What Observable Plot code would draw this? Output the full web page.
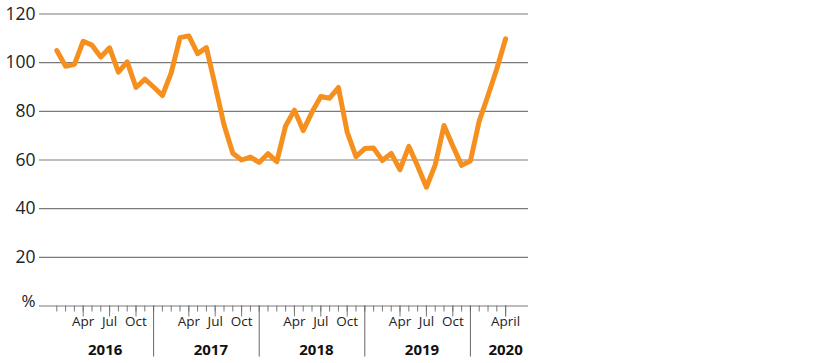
<!DOCTYPE html>
<html>
<head>
<meta charset="utf-8">
<script src="https://cdn.jsdelivr.net/npm/d3@7"></script>
<script src="https://cdn.jsdelivr.net/npm/@observablehq/plot@0.6"></script>
<style>
  html, body { margin: 0; padding: 0; background: #fff; }
  #chart svg { display: block; }
</style>
</head>
<body>
<div id="chart"></div>
<script>
// Monthly values, Jan 2016 .. Apr 2020 (percent)
const values = [
  105, 98.5, 99.3, 108.8, 107.2, 102.3, 106.1, 96.1, 100.3, 89.8, 93.2, 90,
  86.5, 95.8, 110.3, 111, 103.7, 106.2, 90.5, 74.5, 62.8, 60, 61.2, 59,
  62.6, 59.3, 74, 80.5, 72.1, 79.7, 86.1, 85.4, 89.8, 71.4, 61.4, 64.7,
  64.9, 59.8, 62.7, 56, 65.6, 57.5, 48.8, 58, 74.2, 65.8, 57.8, 59.6,
  76, 86.5, 97.5, 109.8
];
const years = [2016, 2017, 2018, 2019, 2020];
const quarterLabels = ["Apr", "Jul", "Oct"];   // months 4, 7, 10
const lastMonthLabel = "April";
const yTicks = [0, 20, 40, 60, 80, 100, 120];
const yZeroLabel = "%";

const data = values.map((v, i) => ({i, v}));
const allMonths = d3.range(values.length);
const boundaries = allMonths.filter(i => i % 12 === 11);
const quarterTicks = allMonths.filter(i => [3, 6, 9].includes(i % 12));
const lastIndex = values.length - 1;
const monthLabelData = quarterTicks
  .filter(i => i < lastIndex - 2)
  .map(i => ({i, label: quarterLabels[[3, 6, 9].indexOf(i % 12)]}))
  .concat([{i: lastIndex, label: lastMonthLabel}]);
const yearLabelData = years.map((y, k) => ({
  i: y === years[years.length - 1] ? lastIndex : k * 12 + 5.5,
  label: String(y)
}));

const font = "'Open Sans', 'Noto Sans', sans-serif";

const chart = Plot.plot({
  width: 816,
  height: 363,
  marginLeft: 39,
  marginRight: 288,
  marginTop: 13.5,
  marginBottom: 57.5,
  style: {fontFamily: font, background: "#fff"},
  x: {type: "linear", domain: [-1.966, 53.6], label: null},
  y: {domain: [0, 120], label: null},
  marks: [
    Plot.ruleY(yTicks, {stroke: "#7a7a7a", strokeWidth: 1.2}),
    Plot.axisY(yTicks.filter(d => d !== 0), {
      tickSize: 0, tickPadding: 4, fontSize: 17.5, fill: "#222", label: null,
      tickFormat: d => String(d)
    }),
    Plot.text([{y: 0, label: yZeroLabel}], {
      y: "y", text: "label", frameAnchor: "left", dx: -4, dy: -4,
      textAnchor: "end", fontSize: 17, fill: "#222"
    }),
    Plot.axisX(allMonths, {tickSize: 6, tickFormat: () => "", stroke: "#777", strokeWidth: 1, label: null}),
    Plot.axisX(quarterTicks.concat([lastIndex]), {tickSize: 11, tickFormat: () => "", stroke: "#777", strokeWidth: 1, label: null}),
    Plot.axisX(boundaries, {tickSize: 51, tickFormat: () => "", stroke: "#666", strokeWidth: 1, label: null}),
    Plot.text(monthLabelData, {x: "i", text: "label", frameAnchor: "bottom", dy: 20.3, fontSize: 13.5, fill: "#222"}),
    Plot.text(yearLabelData, {x: "i", text: "label", frameAnchor: "bottom", dy: 48.5, fontSize: 15, fontWeight: "bold", fill: "#111"}),
    Plot.line(data, {x: "i", y: "v", stroke: "#F5901F", strokeWidth: 5, strokeLinejoin: "round", strokeLinecap: "round"})
  ]
});
document.getElementById("chart").appendChild(chart);
</script>
</body>
</html>
